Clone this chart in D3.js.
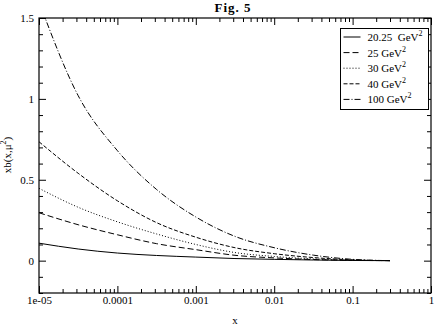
<!DOCTYPE html>
<html>
<head>
<meta charset="utf-8">
<script src="https://cdn.jsdelivr.net/npm/d3@7"></script>
<style>
  body { margin: 0; background: #fff; }
  svg { display: block; }
  text { font-family: "Liberation Serif", "Times New Roman", serif; fill: #000; }
</style>
</head>
<body>
<div id="chart"></div>
<script>
var pic_width = 434,
    pic_height = 327;

// x values (log spaced)
var xVals = [1e-5, 3.16e-5, 1e-4, 3.16e-4, 1e-3, 3.16e-3, 1e-2, 3.16e-2, 0.1, 0.3];

// xb(x, mu^2) for each scale
var s20 = [0.108, 0.072, 0.047, 0.032, 0.022, 0.013, 0.008, 0.004, 0.001, 0];
var s25 = [0.296, 0.222, 0.16, 0.105, 0.068, 0.033, 0.017, 0.007, 0.002, 0];
var s30 = [0.447, 0.33, 0.24, 0.165, 0.1, 0.05, 0.026, 0.011, 0.003, 0];
var s40 = [0.735, 0.54, 0.37, 0.235, 0.145, 0.08, 0.043, 0.019, 0.005, 0];
var s100 = [1.6, 1.02, 0.68, 0.44, 0.27, 0.15, 0.08, 0.034, 0.008, 0];

var seriesNames = ['20.25  GeV', '25 GeV', '30 GeV', '40 GeV', '100 GeV'];
var seriesData = [s20, s25, s30, s40, s100];
var dashes = ['none', '6,3', '1,2', '4,2', '6,2,1,2'];

var xTicks = [1e-5, 1e-4, 1e-3, 1e-2, 1e-1, 1];
var xTickLabels = ['1e-05', '0.0001', '0.001', '0.01', '0.1', '1'];
var yTicks = [0, 0.5, 1, 1.5];
var yTickLabels = ['0', '0.5', '1', '1.5'];

var margin = { top: 18, right: 3, bottom: 34, left: 39 };
var width = pic_width - margin.left - margin.right,
    height = pic_height - margin.top - margin.bottom;

var xScale = d3.scaleLog().domain([1e-5, 1]).range([0, width]);
var yScale = d3.scaleLinear().domain([-0.2, 1.5]).range([height, 0]);

var svg = d3.select('#chart').append('svg')
    .attr('width', pic_width)
    .attr('height', pic_height);

var g = svg.append('g')
    .attr('transform', 'translate(' + margin.left + ',' + margin.top + ')');

g.append('clipPath').attr('id', 'clip')
  .append('rect').attr('width', width).attr('height', height);

// minor tick values
var xMinor = [];
[1e-5, 1e-4, 1e-3, 1e-2, 1e-1].forEach(function(d) {
  for (var k = 2; k <= 9; k++) xMinor.push(d * k);
});
var yMinor = d3.range(-0.2, 1.51, 0.1).map(function(d) { return +d.toFixed(1); })
    .filter(function(d) { return yTicks.indexOf(d) < 0; });

function styleAxis(sel) {
  sel.attr('font-family', '"Liberation Serif", "Times New Roman", serif');
  sel.select('.domain').remove();
  sel.selectAll('line').attr('stroke', '#000');
  sel.selectAll('text').style('font-size', '11px');
}

// bottom
g.append('g').attr('transform', 'translate(0,' + height + ')')
  .call(d3.axisBottom(xScale).tickValues(xTicks)
    .tickFormat(function(d, i) { return xTickLabels[i]; })
    .tickSizeInner(-7).tickSizeOuter(0).tickPadding(3))
  .call(styleAxis);
g.append('g').attr('transform', 'translate(0,' + height + ')')
  .call(d3.axisBottom(xScale).tickValues(xMinor).tickFormat('')
    .tickSizeInner(-4).tickSizeOuter(0))
  .call(styleAxis);
// top
g.append('g')
  .call(d3.axisTop(xScale).tickValues(xTicks).tickFormat('')
    .tickSizeInner(-7).tickSizeOuter(0))
  .call(styleAxis);
g.append('g')
  .call(d3.axisTop(xScale).tickValues(xMinor).tickFormat('')
    .tickSizeInner(-4).tickSizeOuter(0))
  .call(styleAxis);
// left
g.append('g')
  .call(d3.axisLeft(yScale).tickValues(yTicks)
    .tickFormat(function(d, i) { return yTickLabels[i]; })
    .tickSizeInner(-7).tickSizeOuter(0).tickPadding(5))
  .call(styleAxis);
g.append('g')
  .call(d3.axisLeft(yScale).tickValues(yMinor).tickFormat('')
    .tickSizeInner(-4).tickSizeOuter(0))
  .call(styleAxis);
// right
g.append('g').attr('transform', 'translate(' + width + ',0)')
  .call(d3.axisRight(yScale).tickValues(yTicks).tickFormat('')
    .tickSizeInner(-7).tickSizeOuter(0))
  .call(styleAxis);
g.append('g').attr('transform', 'translate(' + width + ',0)')
  .call(d3.axisRight(yScale).tickValues(yMinor).tickFormat('')
    .tickSizeInner(-4).tickSizeOuter(0))
  .call(styleAxis);

// frame
g.append('rect')
  .attr('width', width).attr('height', height)
  .attr('fill', 'none').attr('stroke', '#000').attr('stroke-width', 1.2);

// curves
var line = d3.line()
  .x(function(d, i) { return xScale(xVals[i]); })
  .y(function(d) { return yScale(d); })
  .curve(d3.curveMonotoneX);

g.append('g').attr('clip-path', 'url(#clip)')
  .selectAll('path').data(seriesData)
  .enter().append('path')
  .attr('d', line)
  .attr('fill', 'none')
  .attr('stroke', '#000')
  .attr('stroke-width', 1)
  .attr('stroke-dasharray', function(d, i) { return dashes[i]; });

// legend
var legend = svg.append('g').attr('transform', 'translate(340.5,28.5)');
legend.append('rect')
  .attr('width', 88).attr('height', 81)
  .attr('fill', '#fff').attr('stroke', '#000').attr('stroke-width', 1);

var rows = legend.selectAll('g.row').data(seriesNames)
  .enter().append('g').attr('class', 'row')
  .attr('transform', function(d, i) { return 'translate(0,' + (8.5 + i * 15.6) + ')'; });
rows.append('line')
  .attr('x1', 3).attr('x2', 20)
  .attr('stroke', '#000').attr('stroke-width', 1)
  .attr('stroke-dasharray', function(d, i) { return dashes[i]; });
var lt = rows.append('text')
  .attr('x', 27).attr('y', 4)
  .style('font-size', '11px')
  .attr('xml:space', 'preserve');
lt.append('tspan').text(function(d) { return d; });
lt.append('tspan').attr('dy', -5).style('font-size', '8px').text('2');

// title and labels
svg.append('text')
  .attr('x', 233).attr('y', 12)
  .attr('text-anchor', 'middle')
  .style('font-size', '13px').style('font-weight', 'bold')
  .style('letter-spacing', '1px')
  .text('Fig. 5');

svg.append('text')
  .attr('x', 235).attr('y', 324)
  .attr('text-anchor', 'middle')
  .style('font-size', '11px')
  .text('x');

var yl = svg.append('text')
  .attr('transform', 'translate(11,155) rotate(-90)')
  .attr('text-anchor', 'middle')
  .style('font-size', '11px');
yl.append('tspan').text('xb(x,\u03bc');
yl.append('tspan').attr('dy', -5).style('font-size', '8px').text('2');
yl.append('tspan').attr('dy', 5).text(')');
</script>
</body>
</html>
